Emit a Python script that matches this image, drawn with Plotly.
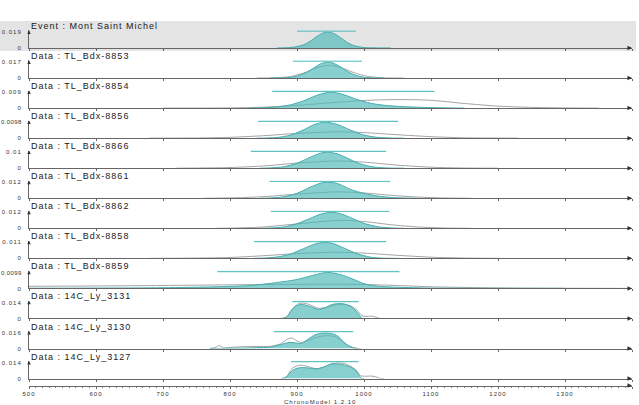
import plotly.graph_objects as go

# ---------------- data ----------------
x_ticks = [500, 600, 700, 800, 900, 1000, 1100, 1200, 1300, 1400]
x_tick_labels = ["500", "600", "700", "800", "900", "1000", "1100", "1200", "1300", "1400"]

panel_titles = ["Event : Mont Saint Michel", "Data : TL_Bdx-8853", "Data : TL_Bdx-8854",
                "Data : TL_Bdx-8856", "Data : TL_Bdx-8866", "Data : TL_Bdx-8861",
                "Data : TL_Bdx-8862", "Data : TL_Bdx-8858", "Data : TL_Bdx-8859",
                "Data : 14C_Ly_3131", "Data : 14C_Ly_3130", "Data : 14C_Ly_3127"]
y_max_values = [0.019, 0.017, 0.009, 0.0098, 0.01, 0.012, 0.012, 0.011, 0.0099, 0.014, 0.016, 0.014]
y_max_labels = ["0.019", "0.017", "0.009", "0.0098", "0.01", "0.012", "0.012", "0.011", "0.0099",
                "0.014", "0.016", "0.014"]
hpd_start = [900, 894, 863, 842, 831, 859, 861, 836, 781, 893, 865, 891]
hpd_end = [988, 997, 1105, 1051, 1033, 1039, 1038, 1033, 1053, 992, 984, 992]

# posterior densities (filled) and individual calibrated densities (grey)
ev_years = [870, 885, 897, 910, 920, 930, 940, 946, 955, 965, 975, 985, 1000, 1020, 1040]
ev_post = [0, 0.0003, 0.0012, 0.0038, 0.0082, 0.0139, 0.0182, 0.0190, 0.0171, 0.0122, 0.0066, 0.0028, 0.0005, 0.0001, 0]

b8853_years = [860, 872, 885, 900, 915, 925, 935, 946, 955, 965, 975, 985, 1000, 1015, 1030]
b8853_post = [0, 0.0001, 0.0004, 0.0019, 0.0063, 0.0107, 0.0150, 0.0170, 0.0156, 0.0117, 0.0071, 0.0036, 0.0008, 0.0001, 0]
b8853_cal_years = [840, 855, 870, 890, 910, 930, 948, 965, 985, 1005, 1025, 1045, 1060]
b8853_cal = [0, 0.0001, 0.0003, 0.0016, 0.0054, 0.0110, 0.0136, 0.0113, 0.0057, 0.0018, 0.0003, 0.00003, 0]

b8854_years = [830, 850, 870, 890, 910, 930, 950, 970, 990, 1010, 1030, 1050, 1080, 1110, 1150]
b8854_post = [0, 0.0002, 0.0007, 0.0018, 0.0041, 0.0072, 0.0090, 0.0075, 0.0048, 0.0027, 0.0016, 0.0010, 0.0005, 0.0002, 0]
b8854_cal_years = [700, 750, 800, 850, 900, 950, 1000, 1050, 1100, 1150, 1200, 1250, 1300, 1350]
b8854_cal = [0, 0.00001, 0.0001, 0.0005, 0.0015, 0.0030, 0.0043, 0.0048, 0.0044, 0.0026, 0.0011, 0.0004, 0.0001, 0]

b8856_years = [840, 850, 870, 890, 910, 925, 942, 960, 980, 1000, 1020, 1040, 1060]
b8856_post = [0, 0.00004, 0.0004, 0.0018, 0.0051, 0.0082, 0.0098, 0.0084, 0.0049, 0.0019, 0.0005, 0.0001, 0]
b8856_cal_years = [680, 700, 750, 800, 850, 900, 960, 1000, 1050, 1100, 1150, 1200, 1230]
b8856_cal = [0, 0.00002, 0.0001, 0.0005, 0.0015, 0.0029, 0.0039, 0.0034, 0.0021, 0.0009, 0.0002, 0.00004, 0]

b8866_years = [845, 860, 880, 900, 920, 935, 946, 960, 975, 990, 1005, 1020, 1040, 1060]
b8866_post = [0, 0.0002, 0.0009, 0.0031, 0.0069, 0.0094, 0.0100, 0.0090, 0.0063, 0.0034, 0.0015, 0.0005, 0.0001, 0]
b8866_cal_years = [720, 750, 800, 850, 900, 958, 1000, 1050, 1100, 1150, 1200]
b8866_cal = [0, 0.0001, 0.0004, 0.0014, 0.0032, 0.0045, 0.0038, 0.0019, 0.0006, 0.0001, 0]

b8861_years = [845, 860, 880, 900, 920, 935, 946, 960, 980, 1000, 1020, 1040, 1060, 1080]
b8861_post = [0, 0.0002, 0.0011, 0.0037, 0.0083, 0.0113, 0.0120, 0.0111, 0.0066, 0.0036, 0.0017, 0.0006, 0.0002, 0]
b8861_cal_years = [760, 780, 820, 860, 900, 960, 1000, 1040, 1080, 1120, 1160]
b8861_cal = [0, 0.0001, 0.0005, 0.0015, 0.0031, 0.0048, 0.0040, 0.0022, 0.0009, 0.0002, 0]

b8862_years = [845, 860, 880, 900, 920, 935, 951, 965, 980, 1000, 1020, 1040, 1060]
b8862_post = [0, 0.0002, 0.0010, 0.0034, 0.0075, 0.0106, 0.0120, 0.0109, 0.0080, 0.0037, 0.0012, 0.0003, 0]
b8862_cal_years = [780, 800, 850, 900, 965, 1000, 1040, 1080, 1120, 1160]
b8862_cal = [0, 0.0001, 0.0010, 0.0033, 0.0060, 0.0051, 0.0027, 0.0010, 0.0002, 0]

b8858_years = [835, 850, 870, 890, 910, 928, 942, 955, 970, 990, 1010, 1030, 1050]
b8858_post = [0, 0.0002, 0.0009, 0.0029, 0.0067, 0.0100, 0.0110, 0.0100, 0.0071, 0.0031, 0.0008, 0.0001, 0]
b8858_cal_years = [680, 700, 750, 800, 850, 900, 955, 1000, 1050, 1100, 1150, 1200]
b8858_cal = [0, 0.00003, 0.0002, 0.0006, 0.0018, 0.0033, 0.0042, 0.0036, 0.0021, 0.0008, 0.0002, 0]

b8859_years = [500, 600, 700, 780, 830, 870, 900, 925, 945, 965, 985, 1000, 1020, 1050, 1100, 1200, 1300]
b8859_post = [0.0001, 0.0002, 0.0004, 0.0010, 0.0018, 0.0036, 0.0055, 0.0082, 0.0099, 0.0085, 0.0055, 0.0029, 0.0014, 0.0007, 0.0002, 0.00005, 0]
b8859_cal_years = [500, 600, 700, 800, 900, 950, 1000, 1050, 1100, 1200, 1300, 1400]
b8859_cal = [0.0013, 0.0015, 0.0018, 0.0022, 0.0025, 0.0026, 0.0024, 0.0018, 0.0010, 0.0003, 0.0001, 0]

c3131_years = [880, 886, 892, 898, 908, 920, 931, 941, 951, 961, 971, 981, 988, 993, 997, 1000]
c3131_post = [0, 0.0020, 0.0075, 0.0110, 0.0122, 0.0104, 0.0080, 0.0092, 0.0120, 0.0130, 0.0126, 0.0102, 0.0066, 0.0030, 0.0002, 0]
c3131_cal_years = [875, 884, 893, 903, 912, 922, 932, 945, 958, 968, 980, 990, 997, 1003, 1010, 1016, 1022, 1030]
c3131_cal = [0, 0.0010, 0.0080, 0.0130, 0.0133, 0.0112, 0.0088, 0.0098, 0.0118, 0.0124, 0.0110, 0.0070, 0.0025, 0.0018, 0.0020, 0.0015, 0.0002, 0]

c3130_years = [770, 800, 840, 860, 876, 888, 896, 906, 916, 926, 936, 945, 953, 961, 968, 976, 983, 990]
c3130_post = [0, 0.0002, 0.0008, 0.0014, 0.0040, 0.0060, 0.0058, 0.0050, 0.0090, 0.0133, 0.0152, 0.0154, 0.0148, 0.0123, 0.0075, 0.0030, 0.0008, 0]
c3130_cal_years = [770, 778, 784, 790, 800, 820, 840, 860, 875, 886, 893, 900, 907, 920, 936, 948, 958, 968, 978, 988, 995]
c3130_cal = [0, 0.0010, 0.0030, 0.0008, 0.0010, 0.0018, 0.0020, 0.0022, 0.0045, 0.0095, 0.0105, 0.0075, 0.0060, 0.0090, 0.0123, 0.0128, 0.0115, 0.0070, 0.0025, 0.0003, 0]

c3127_years = [880, 886, 893, 900, 908, 918, 928, 940, 951, 966, 978, 987, 992, 996, 1000]
c3127_post = [0, 0.0025, 0.0070, 0.0090, 0.0096, 0.0092, 0.0084, 0.0100, 0.0128, 0.0124, 0.0105, 0.0075, 0.0035, 0.0004, 0]
c3127_cal_years = [876, 884, 892, 902, 912, 922, 930, 942, 955, 967, 978, 988, 995, 1002, 1010, 1017, 1024, 1030]
c3127_cal = [0, 0.0012, 0.0085, 0.0115, 0.0112, 0.0095, 0.0085, 0.0105, 0.0132, 0.0135, 0.0115, 0.0075, 0.0025, 0.0020, 0.0022, 0.0016, 0.0002, 0]

posterior_years = [ev_years, b8853_years, b8854_years, b8856_years, b8866_years, b8861_years,
                   b8862_years, b8858_years, b8859_years, c3131_years, c3130_years, c3127_years]
posterior_dens = [ev_post, b8853_post, b8854_post, b8856_post, b8866_post, b8861_post,
                  b8862_post, b8858_post, b8859_post, c3131_post, c3130_post, c3127_post]
calib_years = [None, b8853_cal_years, b8854_cal_years, b8856_cal_years, b8866_cal_years, b8861_cal_years,
               b8862_cal_years, b8858_cal_years, b8859_cal_years, c3131_cal_years, c3130_cal_years, c3127_cal_years]
calib_dens = [None, b8853_cal, b8854_cal, b8856_cal, b8866_cal, b8861_cal,
              b8862_cal, b8858_cal, b8859_cal, c3131_cal, c3130_cal, c3127_cal]

# ---------------- style / layout ----------------
W, H = 639, 405
ML, MR = 29, 7
PLOT_W = W - ML - MR
FIRST_BASE = 48.0
STEP = 30.05
PANEL_PX = 17.6
TOP_PAD = 1.1
FONT = "Liberation Sans, Arial, sans-serif"
AXIS_COL = "#666666"
TEAL_FILL = "rgba(80,184,184,0.68)"
TEAL_LINE = "#45adad"
HPD_COL = "#62c1c1"
GREY = "#a3a3a3"


def sp(text, ls):
    return f'<span style="letter-spacing:{ls}px">{text}</span>'


def py(px):
    return 1 - px / H


fig = go.Figure()
annotations = []
layout_axes = {}

for i in range(12):
    n = "" if i == 0 else str(i + 1)
    xa, ya = "x" + n, "y" + n
    base = FIRST_BASE + STEP * i
    ymax = y_max_values[i]
    lab = y_max_labels[i]
    lab_ls = 1 if len(lab) <= 5 else 0.4

    if calib_years[i] is not None:
        fig.add_trace(go.Scatter(x=calib_years[i], y=calib_dens[i], mode="lines",
                                 line=dict(color=GREY, width=1, shape="spline", smoothing=0.7),
                                 xaxis=xa, yaxis=ya, hoverinfo="skip", showlegend=False))
    fig.add_trace(go.Scatter(x=posterior_years[i], y=posterior_dens[i], mode="lines",
                             fill="tozeroy", fillcolor=TEAL_FILL,
                             line=dict(color=TEAL_LINE, width=1, shape="spline", smoothing=0.7),
                             xaxis=xa, yaxis=ya, hoverinfo="skip", showlegend=False))
    fig.add_trace(go.Scatter(x=[hpd_start[i], hpd_end[i]], y=[ymax * 1.06, ymax * 1.06], mode="lines",
                             line=dict(color=HPD_COL, width=1.5),
                             xaxis=xa, yaxis=ya, hoverinfo="skip", showlegend=False))

    layout_axes["xaxis" + n] = dict(domain=[0, 1], range=[500, 1400], anchor=ya, automargin=False,
                                    showline=True, linecolor=AXIS_COL, linewidth=1,
                                    ticks="outside", ticklen=2, tickcolor=AXIS_COL,
                                    tickmode="array", tickvals=x_ticks, showticklabels=False,
                                    showgrid=False, zeroline=False)
    layout_axes["yaxis" + n] = dict(domain=[py(base), py(base - PANEL_PX)], range=[0, ymax * TOP_PAD],
                                    anchor=xa, automargin=False, showline=True, linecolor=AXIS_COL,
                                    linewidth=1, ticks="", tickmode="array", tickvals=[0, ymax],
                                    ticktext=[sp("0", 1), sp(lab, lab_ls)],
                                    tickfont=dict(size=6, color="#333333", family=FONT),
                                    ticklabelstandoff=5,
                                    showgrid=False, zeroline=False)

    annotations.append(dict(xref="paper", yref="paper", x=0, y=py(base - 22),
                            xanchor="left", yanchor="middle", showarrow=False,
                            text=sp(panel_titles[i], 1.0),
                            font=dict(size=9, color="#1a1a1a", family=FONT)))
    # arrow at end of x axis
    annotations.append(dict(xref=xa, yref=ya, x=1400, y=0, ax=-6, ay=0, text="",
                            showarrow=True, arrowhead=2, arrowsize=0.9, arrowwidth=1,
                            arrowcolor="#333333"))
    # arrow at top of y axis
    annotations.append(dict(xref=xa, yref=ya, x=500, y=ymax * TOP_PAD, ax=0, ay=4, text="",
                            showarrow=True, arrowhead=2, arrowsize=0.7, arrowwidth=1,
                            arrowcolor="#333333"))

# bottom time axis
BOTTOM_AXIS_PX = 385.5
fig.add_trace(go.Scatter(x=[], y=[], xaxis="x13", yaxis="y13", showlegend=False, hoverinfo="skip"))
layout_axes["xaxis13"] = dict(domain=[0, 1], range=[500, 1400], anchor="y13", automargin=False,
                              showline=True, linecolor=AXIS_COL, linewidth=1,
                              ticks="outside", ticklen=2, tickcolor=AXIS_COL,
                              tickmode="array", tickvals=x_ticks,
                              ticktext=[sp(t, 1) for t in x_tick_labels],
                              tickfont=dict(size=6, color="#333333", family=FONT),
                              minor=dict(tickmode="linear", tick0=500, dtick=10, ticks="outside",
                                         ticklen=1.5, tickcolor="#888888"),
                              showgrid=False, zeroline=False)
layout_axes["yaxis13"] = dict(domain=[py(BOTTOM_AXIS_PX), py(BOTTOM_AXIS_PX - 1)], range=[0, 1],
                              anchor="x13", visible=False, automargin=False)
annotations.append(dict(xref="x13", yref="y13", x=1400, y=0, ax=-6, ay=0, text="",
                        showarrow=True, arrowhead=2, arrowsize=0.9, arrowwidth=1,
                        arrowcolor="#333333"))
annotations.append(dict(xref="paper", yref="paper", x=(320 - ML) / PLOT_W, y=py(401.5),
                        xanchor="center", yanchor="middle", showarrow=False,
                        text=sp("ChronoModel 1.2.10", 1),
                        font=dict(size=6, color="#333333", family=FONT)))

shapes = [dict(type="rect", xref="paper", yref="paper", layer="below",
               x0=-ML / PLOT_W, x1=(636 - ML) / PLOT_W, y0=py(51), y1=py(21),
               fillcolor="#e4e4e4", line=dict(width=0))]

fig.update_layout(width=W, height=H, margin=dict(l=ML, r=MR, t=0, b=0, autoexpand=False),
                  paper_bgcolor="white", plot_bgcolor="rgba(0,0,0,0)",
                  showlegend=False, annotations=annotations, shapes=shapes,
                  font=dict(family=FONT), **layout_axes)

fig.write_html("out.html")
